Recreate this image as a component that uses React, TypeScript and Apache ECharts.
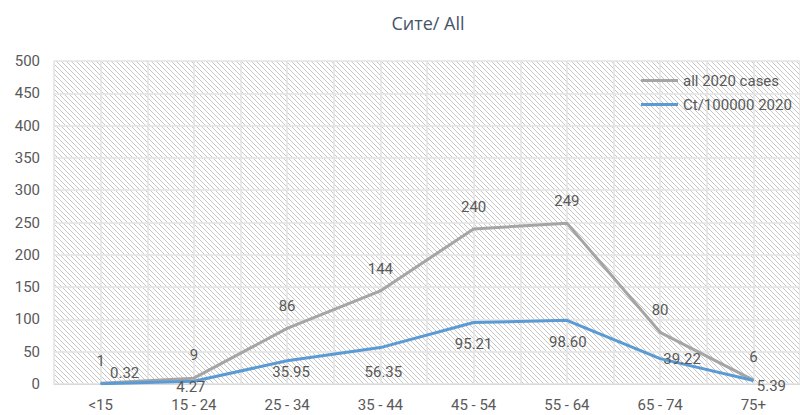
import React, { useEffect, useRef } from "react";
import * as echarts from "echarts";

const categories = ["<15", "15 - 24", "25 - 34", "35 - 44", "45 - 54", "55 - 64", "65 - 74", "75+"];
const allCases = [1, 9, 86, 144, 240, 249, 80, 6];
const ctRate = [0.32, 4.27, 35.95, 56.35, 95.21, 98.6, 39.22, 5.39];
const ctRateLabels = ["0.32", "4.27", "35.95", "56.35", "95.21", "98.60", "39.22", "5.39"];
const allOffsets: [number, number][] = [[0, -22], [0, -23], [0, -22], [0, -22], [0, -22], [0, -22], [0, -22], [0, -23]];
const ctOffsets: [number, number][] = [[24, -11], [-3, 6], [4, 11], [3, 24], [0, 22], [1, 22], [22, 0], [18, 5]];
const halfBands = Array.from({ length: 16 }, (_, i) => "h" + i);

function makeHatch() {
  const c = document.createElement("canvas");
  c.width = 5;
  c.height = 5;
  const ctx = c.getContext("2d")!;
  ctx.fillStyle = "#ffffff";
  ctx.fillRect(0, 0, 5, 5);
  for (let i = 0; i < 5; i++) {
    ctx.fillStyle = "#c6c6c6";
    ctx.fillRect(i, i, 1, 1);
  }
  return c;
}

export default function App() {
  const ref = useRef<HTMLDivElement>(null);
  useEffect(() => {
    if (!ref.current) return;
    const chart = echarts.init(ref.current, null, { renderer: "svg" });
    const font = "Roboto, 'Noto Sans', sans-serif";
    const labelBase = { show: true, position: "inside", color: "#595959", fontSize: 15, fontFamily: font };
    chart.setOption({
      animation: false,
      backgroundColor: "#ffffff",
      title: {
        text: "Сите/ All",
        left: 423,
        top: 9,
        textAlign: "center",
        textStyle: { color: "#44546a", fontSize: 18, fontWeight: "normal", fontFamily: "'Liberation Sans Narrow', 'Open Sans', sans-serif" },
      },
      legend: {
        orient: "vertical",
        left: 641,
        top: 73,
        itemWidth: 37,
        itemHeight: 14,
        itemGap: 9,
        padding: 0,
        textStyle: { color: "#595959", fontSize: 15, fontFamily: font },
        data: [
          { name: "all 2020 cases", icon: "path://M0,6H37V9H0Z", itemStyle: { color: "#a5a5a5", opacity: 1 } },
          { name: "Ct/100000 2020", icon: "path://M0,6H37V9H0Z", itemStyle: { color: "#5b9bd5", opacity: 1 } },
        ],
      },
      grid: {
        left: 54,
        top: 61,
        width: 752,
        height: 323,
        show: true,
        borderWidth: 0,
        backgroundColor: { image: makeHatch(), repeat: "repeat" },
      },
      xAxis: [
        {
          type: "category",
          data: categories,
          boundaryGap: true,
          axisLine: { show: true, lineStyle: { color: "#d9d9d9", width: 1 } },
          axisTick: { show: false },
          axisLabel: { color: "#595959", fontSize: 15, fontFamily: font, margin: 13, interval: 0 },
          splitLine: { show: false },
          z: 3,
        },
        {
          type: "category",
          data: halfBands,
          boundaryGap: true,
          position: "bottom",
          show: true,
          axisLine: { show: false },
          axisTick: { show: false },
          axisLabel: { show: false },
          splitLine: { show: true, interval: 0, lineStyle: { color: "#e3e3e3", width: 1.5 } },
        },
      ],
      yAxis: {
        type: "value",
        min: 0,
        max: 500,
        interval: 50,
        axisLine: { show: false },
        axisTick: { show: false },
        axisLabel: { color: "#595959", fontSize: 15, fontFamily: font, margin: 14 },
        splitLine: { show: true, lineStyle: { color: "#e3e3e3", width: 1.5 } },
      },
      series: [
        {
          name: "all 2020 cases",
          type: "line",
          xAxisIndex: 0,
          data: allCases.map((v, i) => ({ value: v, label: { ...labelBase, offset: allOffsets[i] } })),
          symbol: "circle",
          symbolSize: 1,
          itemStyle: { color: "#a5a5a5" },
          lineStyle: { color: "#a5a5a5", width: 3 },
          label: { ...labelBase },
        },
        {
          name: "Ct/100000 2020",
          type: "line",
          xAxisIndex: 0,
          data: ctRate.map((v, i) => ({ value: v, label: { ...labelBase, offset: ctOffsets[i], formatter: ctRateLabels[i] } })),
          symbol: "circle",
          symbolSize: 1,
          itemStyle: { color: "#5b9bd5" },
          lineStyle: { color: "#5b9bd5", width: 3 },
          label: { ...labelBase },
        },
      ],
    });
    return () => chart.dispose();
  }, []);
  return <div ref={ref} style={{ position: "fixed", left: 0, top: 0, width: 800, height: 415 }} />;
}
